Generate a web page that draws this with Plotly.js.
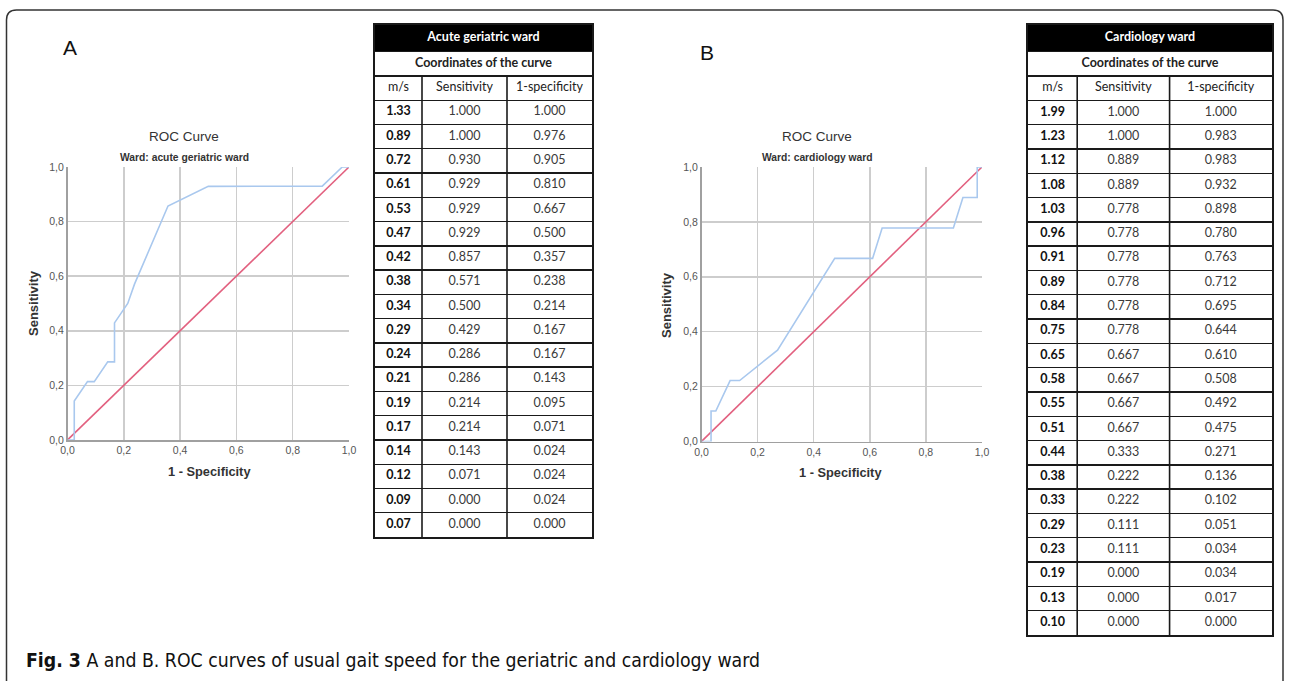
<!DOCTYPE html>
<html>
<head>
<meta charset="utf-8">
<script src="https://cdn.plot.ly/plotly-3.0.1.min.js"></script>
<style>html,body{margin:0;padding:0;background:#fff;}#chart{width:1290px;height:681px;}</style>
</head>
<body>
<div id="chart"></div>
<script>
// ---- Data: acute geriatric ward ----
const geriMs   = [1.33,0.89,0.72,0.61,0.53,0.47,0.42,0.38,0.34,0.29,0.24,0.21,0.19,0.17,0.14,0.12,0.09,0.07];
const geriSens = [1.000,1.000,0.930,0.929,0.929,0.929,0.857,0.571,0.500,0.429,0.286,0.286,0.214,0.214,0.143,0.071,0.000,0.000];
const geriFpr  = [1.000,0.976,0.905,0.810,0.667,0.500,0.357,0.238,0.214,0.167,0.167,0.143,0.095,0.071,0.024,0.024,0.024,0.000];
// ---- Data: cardiology ward ----
const cardMs   = [1.99,1.23,1.12,1.08,1.03,0.96,0.91,0.89,0.84,0.75,0.65,0.58,0.55,0.51,0.44,0.38,0.33,0.29,0.23,0.19,0.13,0.10];
const cardSens = [1.000,1.000,0.889,0.889,0.778,0.778,0.778,0.778,0.778,0.778,0.667,0.667,0.667,0.667,0.333,0.222,0.222,0.111,0.111,0.000,0.000,0.000];
const cardFpr  = [1.000,0.983,0.983,0.932,0.898,0.780,0.763,0.712,0.695,0.644,0.610,0.508,0.492,0.475,0.271,0.136,0.102,0.051,0.034,0.034,0.017,0.000];
// ---- Labels ----
const tableColumns = ['m/s','Sensitivity','1-specificity'];
const tableSubtitle = 'Coordinates of the curve';
const wardTitles = ['Acute geriatric ward','Cardiology ward'];
const plotSubtitles = ['Ward: acute geriatric ward','Ward: cardiology ward'];
const refLine = [0,1];
const tickVals = [0,0.2,0.4,0.6,0.8,1.0];
const caption = '<b>Fig. 3</b> A and B. ROC curves of usual gait speed for the geriatric and cardiology ward';

const W = 1290, H = 681;
const px = v => v / W;
const py = v => 1 - v / H;

const blue = '#a9c8ee', red = '#e2607f';
const sansChart = 'Liberation Sans, Arial, sans-serif';
const tblFont = 'Lato, Open Sans, sans-serif';
const tblSize = 12.5;
const titleExtra = 0.1; // title row slightly taller than other rows

function curve(fpr, sens, xa, ya) {
  return {type:'scatter', mode:'lines', x: fpr.slice().reverse(), y: sens.slice().reverse(),
    xaxis: xa, yaxis: ya, line:{color: blue, width:1.6}, hoverinfo:'skip', showlegend:false};
}
function diag(xa, ya) {
  return {type:'scatter', mode:'lines', x: refLine, y: refLine, xaxis: xa, yaxis: ya,
    line:{color: red, width:1.6}, hoverinfo:'skip', showlegend:false};
}

// table drawn on its own axes: x in column-width units, y in row units (reversed)
function tableText(ms, sens, fpr, title, xa, ya, widths) {
  const total = widths.reduce((a,b)=>a+b,0);
  const centers = []; let acc = 0;
  widths.forEach(w => { centers.push(acc + w/2); acc += w; });
  const xs = [], ys = [], txt = [], col = [];
  xs.push(total/2); ys.push(0.5 - titleExtra/2); txt.push('<b>'+title+'</b>'); col.push('#ffffff');
  xs.push(total/2); ys.push(1.5); txt.push('<b>'+tableSubtitle+'</b>'); col.push('#222222');
  tableColumns.forEach((c,j) => { xs.push(centers[j]); ys.push(2.5); txt.push(c); col.push('#222222'); });
  ms.forEach((v,i) => {
    xs.push(centers[0]); ys.push(i+3.5); txt.push('<b>'+v.toFixed(2)+'</b>'); col.push('#111111');
    xs.push(centers[1]); ys.push(i+3.5); txt.push(sens[i].toFixed(3)); col.push('#3a3a3a');
    xs.push(centers[2]); ys.push(i+3.5); txt.push(fpr[i].toFixed(3)); col.push('#3a3a3a');
  });
  return {type:'scatter', mode:'text', x: xs, y: ys, text: txt, xaxis: xa, yaxis: ya,
    textposition:'middle center', textfont:{family: tblFont, size: tblSize, color: col},
    hoverinfo:'skip', showlegend:false, cliponaxis:false};
}

const widthsA = [47,85,85], widthsB = [49,92,102];
const rowsA = geriMs.length + 3, rowsB = cardMs.length + 3;

const data = [
  diag('x','y'), curve(geriFpr, geriSens, 'x','y'),
  diag('x2','y2'), curve(cardFpr, cardSens, 'x2','y2'),
  tableText(geriMs, geriSens, geriFpr, wardTitles[0], 'x3','y3', widthsA),
  tableText(cardMs, cardSens, cardFpr, wardTitles[1], 'x4','y4', widthsB)
];

function xax(d, anchor) {
  return {domain:d, anchor, range:[0,1], tickvals: tickVals, tickformat:'.1f', showgrid:true, gridcolor:'#cdcdcd', gridwidth:1.5,
    zeroline:false, showline:true, linecolor:'#a0a0a0', linewidth:1.5, ticks:'', fixedrange:true,
    tickfont:{family:sansChart, size:10.5, color:'#555'}};
}
function yax(d, anchor) {
  return {domain:d, anchor, range:[0,1], tickvals: tickVals, tickformat:'.1f', showgrid:true, gridcolor:'#cdcdcd', gridwidth:1.5,
    zeroline:false, showline:true, linecolor:'#a0a0a0', linewidth:1.5, ticks:'', fixedrange:true,
    tickfont:{family:sansChart, size:10.5, color:'#555'}};
}
function tblX(d, anchor, widths) {
  return {domain:d, anchor, range:[0, widths.reduce((a,b)=>a+b,0)], showgrid:false, zeroline:false,
    showticklabels:false, ticks:'', showline:true, mirror:true, linecolor:'#1a1a1a', linewidth:2, fixedrange:true};
}
function tblY(d, anchor, n) {
  const tv = []; for (let i=1;i<n;i++) tv.push(i);
  return {domain:d, anchor, range:[n, -titleExtra], tickvals: tv, showgrid:true, gridcolor:'#1a1a1a', gridwidth:1.4,
    zeroline:false, showticklabels:false, ticks:'', showline:true, mirror:true, linecolor:'#1a1a1a', linewidth:2, fixedrange:true};
}
function tableShapes(xr, yr, widths, n) {
  const total = widths.reduce((a,b)=>a+b,0);
  const s = [{type:'rect', xref:xr, yref:yr, x0:0, x1:total, y0:-titleExtra, y1:1, fillcolor:'#000', line:{width:0}, layer:'below'}];
  let acc = 0;
  for (let j=0;j<widths.length-1;j++) {
    acc += widths[j];
    s.push({type:'line', xref:xr, yref:yr, x0:acc, x1:acc, y0:2, y1:n, line:{color:'#1a1a1a', width:1.6}});
  }
  return s;
}

function ann(text, x, y, size, opts) {
  return Object.assign({text, x:px(x), y:py(y), xref:'paper', yref:'paper', showarrow:false,
    xanchor:'center', yanchor:'middle', font:{family:sansChart, size, color:'#333'}}, opts||{});
}

const annotations = [
  ann('A', 70, 48, 21, {font:{family:'Liberation Sans, Arial', size:21, color:'#111'}}),
  ann('B', 707, 52, 21, {font:{family:'Liberation Sans, Arial', size:21, color:'#111'}}),
  ann('ROC Curve', 184, 136, 13.5),
  ann('<b>'+plotSubtitles[0]+'</b>', 184, 157, 10.3),
  ann('<b>1 - Specificity</b>', 209, 472, 12.8),
  ann('<b>Sensitivity</b>', 33, 303, 13, {textangle:-90}),
  ann('ROC Curve', 817, 136, 13.5),
  ann('<b>'+plotSubtitles[1]+'</b>', 818, 157, 10.3),
  ann('<b>1 - Specificity</b>', 840, 473, 12.8),
  ann('<b>Sensitivity</b>', 667, 305, 13, {textangle:-90}),
  ann(caption, 24, 660, 19.3, {xanchor:'left', font:{family:'Liberation Sans Narrow, DejaVu Sans Condensed, Arial Narrow, sans-serif', size:19.3, color:'#111'}})
];

const r = 10, L = 6.5, R = 1283, T = 10, B = 700;
const borderPath = `M ${px(L)},${py(B)} L ${px(L)},${py(T+r)} Q ${px(L)},${py(T)} ${px(L+r)},${py(T)} L ${px(R-r)},${py(T)} Q ${px(R)},${py(T)} ${px(R)},${py(T+r)} L ${px(R)},${py(B)}`;

const layout = {
  width: W, height: H, margin:{l:0,r:0,t:0,b:0}, paper_bgcolor:'#fff', plot_bgcolor:'rgba(0,0,0,0)',
  separators: ',.', showlegend:false,
  xaxis: xax([px(67.5), px(349)], 'y'), yaxis: yax([py(440), py(167)], 'x'),
  xaxis2: xax([px(701.5), px(982)], 'y2'), yaxis2: yax([py(441.5), py(167)], 'x2'),
  xaxis3: tblX([px(375), px(592)], 'y3', widthsA), yaxis3: tblY([py(537), py(25)], 'x3', rowsA),
  xaxis4: tblX([px(1028), px(1272)], 'y4', widthsB), yaxis4: tblY([py(635), py(25)], 'x4', rowsB),
  annotations,
  shapes:[{type:'path', path: borderPath, xref:'paper', yref:'paper', line:{color:'#333', width:1.5}}]
    .concat(tableShapes('x3','y3', widthsA, rowsA), tableShapes('x4','y4', widthsB, rowsB))
};

Plotly.newPlot('chart', data, layout, {staticPlot:true, displayModeBar:false});
</script>
</body>
</html>
